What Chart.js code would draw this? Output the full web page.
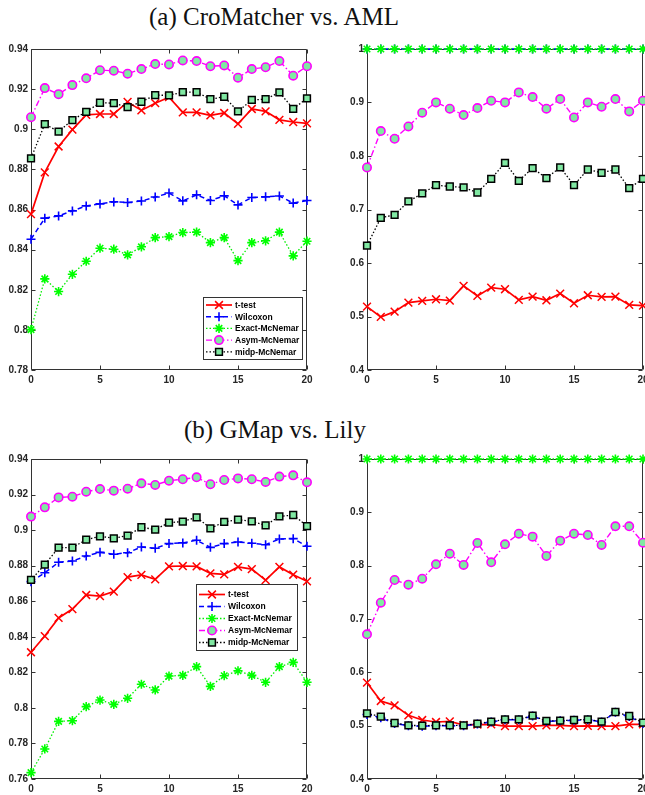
<!DOCTYPE html>
<html>
<head>
<meta charset="utf-8">
<script src="https://cdn.jsdelivr.net/npm/chart.js@4.4.1/dist/chart.umd.min.js"></script>
<style>
  html, body { margin: 0; padding: 0; background: #fff; }
  body { width: 645px; height: 795px; position: relative; overflow: hidden; }
  .title { position: absolute; font-family: 'Liberation Serif', 'DejaVu Serif', serif; font-size: 25px; color: #111;
           white-space: nowrap; transform: translateX(-50%); line-height: 1; }
  canvas { position: absolute; }
</style>
</head>
<body>
<div class="title" style="left:274px; top:4px">(a) CroMatcher vs. AML</div>
<div class="title" style="left:275px; top:417px">(b) GMap vs. Lily</div>
<canvas id="aLeft" width="330" height="355" style="left:0; top:35px"></canvas>
<canvas id="aRight" width="350" height="355" style="left:320px; top:35px"></canvas>
<canvas id="bLeft" width="330" height="354" style="left:0; top:445px"></canvas>
<canvas id="bRight" width="350" height="354" style="left:320px; top:445px"></canvas>
<script>
// x positions and tick values
const steps = [0, 1, 2, 3, 4, 5, 6, 7, 8, 9, 10, 11, 12, 13, 14, 15, 16, 17, 18, 19, 20];
const xTicks = [0, 5, 10, 15, 20];
const yTicksALeft = [0.78, 0.8, 0.82, 0.84, 0.86, 0.88, 0.9, 0.92, 0.94];
const yTicksBLeft = [0.76, 0.78, 0.8, 0.82, 0.84, 0.86, 0.88, 0.9, 0.92, 0.94];
const yTicksRight = [0.4, 0.5, 0.6, 0.7, 0.8, 0.9, 1];

const seriesNames = ['t-test', 'Wilcoxon', 'Exact-McNemar', 'Asym-McNemar', 'midp-McNemar'];

// (a) CroMatcher vs. AML, left
const aLeftTtest = [0.8577, 0.8785, 0.8914, 0.8998, 0.9072, 0.9076, 0.9076, 0.9136, 0.9094, 0.913, 0.916, 0.9084, 0.9084, 0.9069, 0.9081, 0.9027, 0.9101, 0.9089, 0.9047, 0.9036, 0.9029];
const aLeftWilcoxon = [0.8452, 0.8557, 0.8568, 0.8593, 0.8618, 0.8628, 0.8638, 0.8635, 0.8642, 0.8662, 0.8682, 0.8643, 0.8673, 0.8645, 0.8668, 0.8623, 0.866, 0.8663, 0.8667, 0.8632, 0.8645];
const aLeftExact = [0.8001, 0.8254, 0.8191, 0.8277, 0.8342, 0.8407, 0.8402, 0.8374, 0.8414, 0.846, 0.8465, 0.8485, 0.8487, 0.8435, 0.846, 0.8345, 0.8435, 0.8444, 0.8487, 0.8369, 0.8442];
const aLeftAsym = [0.906, 0.9205, 0.9175, 0.922, 0.9254, 0.9294, 0.9292, 0.9277, 0.930, 0.9325, 0.9323, 0.9343, 0.934, 0.9314, 0.9318, 0.9257, 0.930, 0.9309, 0.934, 0.9267, 0.9314];
const aLeftMidp = [0.8855, 0.9026, 0.8988, 0.9046, 0.9087, 0.9132, 0.913, 0.911, 0.9137, 0.917, 0.9169, 0.9185, 0.9185, 0.915, 0.9162, 0.9089, 0.9146, 0.915, 0.9184, 0.9102, 0.9154];

// (a) right
const aRightTtest = [0.5185, 0.4992, 0.5091, 0.526, 0.5291, 0.5322, 0.5297, 0.5572, 0.5385, 0.5541, 0.551, 0.531, 0.5372, 0.5303, 0.5428, 0.5247, 0.5397, 0.5366, 0.5372, 0.5216, 0.5204];
const aRightWilcoxon = [1, 1, 1, 1, 1, 1, 1, 1, 1, 1, 1, 1, 1, 1, 1, 1, 1, 1, 1, 1, 1];
const aRightExact = [1, 1, 1, 1, 1, 1, 1, 1, 1, 1, 1, 1, 1, 1, 1, 1, 1, 1, 1, 1, 1];
const aRightAsym = [0.7786, 0.8466, 0.8322, 0.8553, 0.8809, 0.9002, 0.8884, 0.8765, 0.8896, 0.9033, 0.9002, 0.9189, 0.9102, 0.8884, 0.9064, 0.8721, 0.9002, 0.8921, 0.9064, 0.8834, 0.9033];
const aRightMidp = [0.6326, 0.6844, 0.69, 0.715, 0.73, 0.7455, 0.743, 0.7412, 0.7318, 0.7574, 0.7873, 0.7536, 0.7773, 0.7586, 0.7786, 0.7455, 0.7748, 0.7686, 0.7748, 0.7399, 0.7574];

// (b) GMap vs. Lily, left
const bLeftTtest = [0.8313, 0.8404, 0.8506, 0.8556, 0.8635, 0.8629, 0.8654, 0.8736, 0.8748, 0.8723, 0.8796, 0.8798, 0.8796, 0.8757, 0.8751, 0.8793, 0.8781, 0.8719, 0.8793, 0.8749, 0.8712];
const bLeftWilcoxon = [0.871, 0.876, 0.8819, 0.8826, 0.8854, 0.8875, 0.8864, 0.8873, 0.8905, 0.8898, 0.8924, 0.8928, 0.8943, 0.8903, 0.8924, 0.8933, 0.8926, 0.8918, 0.895, 0.8952, 0.8909];
const bLeftExact = [0.7636, 0.7769, 0.7924, 0.7928, 0.8007, 0.8044, 0.802, 0.8054, 0.8133, 0.8101, 0.8179, 0.8183, 0.8232, 0.8121, 0.8181, 0.8209, 0.8183, 0.8144, 0.8232, 0.8256, 0.8144];
const bLeftAsym = [0.9076, 0.9128, 0.9184, 0.9188, 0.9216, 0.9231, 0.9222, 0.9233, 0.9263, 0.9254, 0.9278, 0.9286, 0.9297, 0.9258, 0.9282, 0.9291, 0.9286, 0.9271, 0.9301, 0.9308, 0.9269];
const bLeftMidp = [0.872, 0.8806, 0.8901, 0.8901, 0.8946, 0.8965, 0.8954, 0.8969, 0.9016, 0.9003, 0.9042, 0.9048, 0.9072, 0.901, 0.9046, 0.9059, 0.9049, 0.9027, 0.9077, 0.9085, 0.9023];

// (b) right
const bRightTtest = [0.5806, 0.5463, 0.5381, 0.5194, 0.5106, 0.5069, 0.5081, 0.5013, 0.5019, 0.5025, 0.499, 0.499, 0.499, 0.5005, 0.5005, 0.499, 0.4995, 0.499, 0.499, 0.5025, 0.5025];
const bRightWilcoxon = [0.521, 0.515, 0.504, 0.5, 0.499, 0.5, 0.5, 0.5, 0.503, 0.507, 0.511, 0.511, 0.518, 0.508, 0.509, 0.51, 0.511, 0.507, 0.525, 0.517, 0.504];
const bRightExact = [1, 1, 1, 1, 1, 1, 1, 1, 1, 1, 1, 1, 1, 1, 1, 1, 1, 1, 1, 1, 1];
const bRightAsym = [0.6713, 0.7306, 0.7731, 0.7644, 0.7756, 0.8025, 0.8225, 0.8013, 0.8425, 0.8063, 0.84, 0.86, 0.8544, 0.8181, 0.8469, 0.86, 0.8575, 0.8388, 0.8738, 0.8738, 0.8431];
const bRightMidp = [0.5231, 0.5169, 0.505, 0.5006, 0.5, 0.5006, 0.5006, 0.5006, 0.5038, 0.5075, 0.5119, 0.5119, 0.5188, 0.5088, 0.5094, 0.5106, 0.5119, 0.5075, 0.5256, 0.5181, 0.5056];

const MINT = '#80e8a2';
const AXIS = '#333';
const TICK_FONT = { family: "'Liberation Sans', Arial, sans-serif", size: 10, weight: 'bold' };

// one style per series, same order as seriesNames
const styles = [
  { borderColor: '#ff0000', borderWidth: 1.7, borderDash: [], pointStyle: 'crossRot', pointRadius: 5.5, pointBackgroundColor: '#ff0000', pointBorderWidth: 1.5 },
  { borderColor: '#0000ff', borderWidth: 1.5, borderDash: [5, 3.5], pointStyle: 'cross', pointRadius: 4.5, pointBackgroundColor: '#0000ff', pointBorderWidth: 1.6 },
  { borderColor: '#00ee00', borderWidth: 1.3, borderDash: [1.5, 2], pointStyle: 'star', pointRadius: 4.6, pointBackgroundColor: '#00ff00', pointBorderWidth: 1.6 },
  { borderColor: '#ff00ff', borderWidth: 1.4, borderDash: [6, 2.5, 1.5, 2.5], pointStyle: 'circle', pointRadius: 4.2, pointBackgroundColor: MINT, pointBorderWidth: 1.6 },
  { borderColor: '#000000', borderWidth: 1.3, borderDash: [1.5, 2], pointStyle: 'rect', pointRadius: 4.8, pointBackgroundColor: MINT, pointBorderWidth: 1.5 },
];

function makeDatasets(seriesList) {
  return seriesList.map((values, i) => {
    const s = styles[i];
    return {
      label: seriesNames[i],
      data: values.map((v, k) => ({ x: steps[k], y: v })),
      borderColor: s.borderColor,
      borderWidth: s.borderWidth,
      borderDash: s.borderDash,
      pointStyle: s.pointStyle,
      pointRadius: s.pointRadius,
      pointBackgroundColor: s.pointBackgroundColor,
      pointBorderColor: s.borderColor === '#00ee00' ? '#00ff00' : s.borderColor,
      pointBorderWidth: s.pointBorderWidth,
      tension: 0,
      fill: false,
      clip: false,
      order: seriesList.length - i,
    };
  });
}

// matlab style box with inward ticks
const boxAxes = {
  id: 'boxAxes',
  beforeDatasetsDraw(chart) {
    const { ctx, chartArea: a, scales: { x, y } } = chart;
    ctx.save();
    ctx.strokeStyle = AXIS;
    ctx.lineWidth = 1;
    ctx.beginPath();
    const L = Math.round(a.left) + 0.5, R = Math.round(a.right) - 0.5;
    const T = Math.round(a.top) + 0.5, B = Math.round(a.bottom) - 0.5;
    ctx.rect(L, T, R - L, B - T);
    x.ticks.forEach(t => {
      const px = Math.round(x.getPixelForValue(t.value)) + 0.5;
      ctx.moveTo(px, B); ctx.lineTo(px, B - 4);
      ctx.moveTo(px, T); ctx.lineTo(px, T + 4);
    });
    y.ticks.forEach(t => {
      const py = Math.round(y.getPixelForValue(t.value)) + 0.5;
      ctx.moveTo(L, py); ctx.lineTo(L + 4, py);
      ctx.moveTo(R, py); ctx.lineTo(R - 4, py);
    });
    ctx.stroke();
    ctx.restore();
  }
};

function drawMarker(ctx, ds, cx, cy) {
  ctx.setLineDash([]);
  ctx.fillStyle = ds.pointBackgroundColor;
  ctx.strokeStyle = ds.pointBorderColor;
  ctx.lineWidth = ds.pointBorderWidth;
  Chart.helpers.drawPoint(ctx, { pointStyle: ds.pointStyle, radius: ds.pointRadius, rotation: 0, borderWidth: ds.pointBorderWidth }, cx, cy);
}

// legend box drawn inside the plot
const boxLegend = {
  id: 'boxLegend',
  afterDraw(chart, args, opts) {
    if (!opts || !opts.show) return;
    const { ctx } = chart;
    ctx.save();
    ctx.fillStyle = '#fff';
    ctx.fillRect(opts.left, opts.top, opts.width, opts.height);
    ctx.strokeStyle = AXIS;
    ctx.lineWidth = 1;
    ctx.strokeRect(opts.left + 0.5, opts.top + 0.5, opts.width, opts.height);
    chart.data.datasets.forEach((ds, i) => {
      const cy = opts.top + opts.first + i * opts.row;
      const x0 = opts.left + 3, x1 = opts.left + 29;
      ctx.setLineDash(ds.borderDash);
      ctx.strokeStyle = ds.borderColor;
      ctx.lineWidth = ds.borderWidth;
      ctx.beginPath(); ctx.moveTo(x0, cy); ctx.lineTo(x1, cy); ctx.stroke();
      drawMarker(ctx, ds, (x0 + x1) / 2, cy);
      ctx.fillStyle = '#000';
      ctx.font = "bold 8.5px 'Liberation Sans', Arial, sans-serif";
      ctx.textBaseline = 'middle';
      ctx.textAlign = 'left';
      ctx.fillText(ds.label, x1 + 3, cy + 0.5);
    });
    ctx.restore();
  }
};

function makeChart(id, seriesList, yTicks, yAxisWidth, padRight, legend) {
  return new Chart(document.getElementById(id), {
    type: 'line',
    data: { datasets: makeDatasets(seriesList) },
    plugins: [boxAxes, boxLegend],
    options: {
      responsive: false,
      animation: false,
      events: [],
      layout: { padding: { top: 14, right: padRight, left: 0, bottom: 0 } },
      plugins: { legend: { display: false }, tooltip: { enabled: false }, boxLegend: legend || { show: false } },
      scales: {
        x: {
          type: 'linear', min: 0, max: 20,
          afterBuildTicks: s => { s.ticks = xTicks.map(v => ({ value: v })); },
          afterFit: s => { s.height = 20; },
          grid: { display: false, drawTicks: false }, border: { display: false },
          ticks: { font: TICK_FONT, color: '#262626', padding: 4, maxRotation: 0, autoSkip: false, callback: v => String(v) },
        },
        y: {
          type: 'linear', min: yTicks[0], max: yTicks[yTicks.length - 1],
          afterBuildTicks: s => { s.ticks = yTicks.map(v => ({ value: v })); },
          afterFit: s => { s.width = yAxisWidth; },
          grid: { display: false, drawTicks: false }, border: { display: false },
          ticks: { font: TICK_FONT, color: '#262626', padding: 3, autoSkip: false, callback: v => String(v) },
        },
      },
    },
  });
}

makeChart('aLeft', [aLeftTtest, aLeftWilcoxon, aLeftExact, aLeftAsym, aLeftMidp], yTicksALeft, 31, 23,
  { show: true, left: 203, top: 262, width: 99, height: 62, first: 8, row: 11.7 });
makeChart('aRight', [aRightTtest, aRightWilcoxon, aRightExact, aRightAsym, aRightMidp], yTicksRight, 47, 27);
makeChart('bLeft', [bLeftTtest, bLeftWilcoxon, bLeftExact, bLeftAsym, bLeftMidp], yTicksBLeft, 31, 23,
  { show: true, left: 196, top: 139, width: 101, height: 66, first: 10.5, row: 12 });
makeChart('bRight', [bRightTtest, bRightWilcoxon, bRightExact, bRightAsym, bRightMidp], yTicksRight, 47, 27);
</script>
</body>
</html>
